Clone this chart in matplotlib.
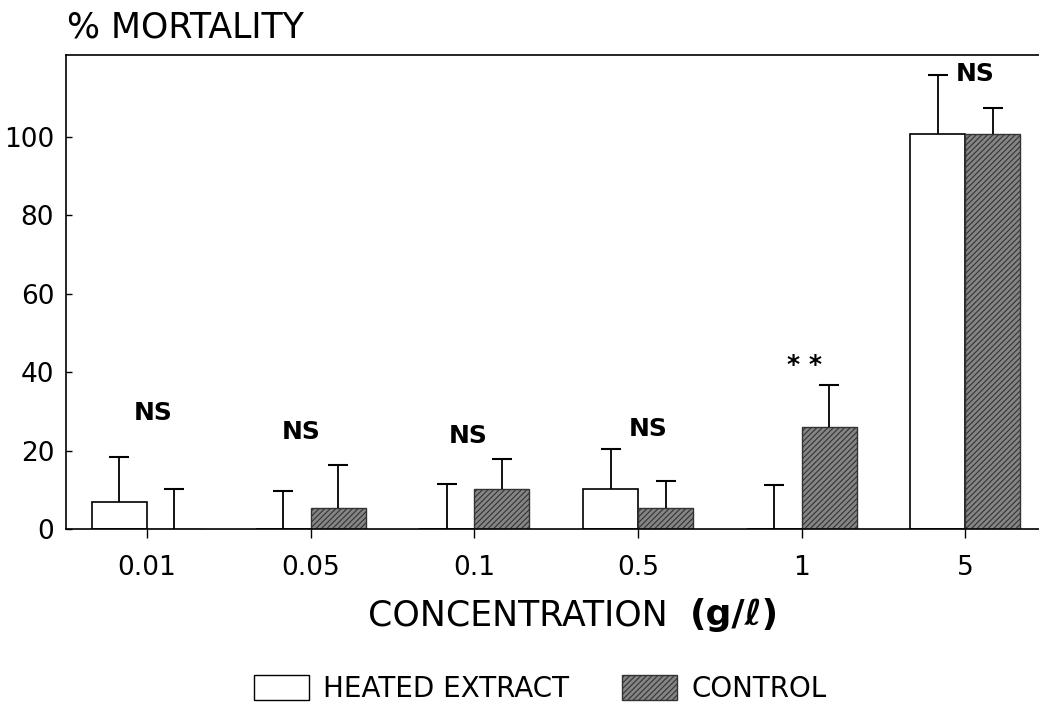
import numpy as np
import matplotlib
matplotlib.use("Agg")
import matplotlib.pyplot as plt
from matplotlib.patches import Patch

# =====================================================
# DATA
# =====================================================

concentrations = ["0.01", "0.05", "0.1", "0.5", "1", "5"]

heated = [6.9, 0, 0, 10.3, 0, 100.6]
heated_sd = [11.4, 9.6, 11.4, 10.0, 11.2, 15.2]

control = [0, 5.3, 10.2, 5.4, 25.9, 100.6]
control_sd = [10.2, 10.9, 7.6, 6.8, 10.9, 6.6]

# significance marks: (label, x offset from group, height)
sig_labels = ["NS", "NS", "NS", "NS", "* *", "NS"]
sig_offsets = [0.04, -0.06, -0.04, 0.06, 0.02, 0.06]
sig_heights = [29.6, 24.6, 23.6, 25.6, 41.9, 116.0]

# =====================================================
# FIGURE
# =====================================================

plt.rcParams["font.family"] = ["DejaVu Sans"]
plt.rcParams["hatch.linewidth"] = 0.8
plt.rcParams["hatch.color"] = "#222222"

fig = plt.figure(figsize=(10.39, 7.08), dpi=100)
ax = fig.add_axes([0.0635, 0.2528, 0.9365, 0.6695])

x = np.arange(len(concentrations))
w = 0.336

ax.bar(x - w / 2, heated, width=w, color="white",
       edgecolor="black", linewidth=1.2, zorder=2)
ax.bar(x + w / 2, control, width=w, color="#858585",
       edgecolor="#333333", linewidth=1.0, hatch="//////", zorder=2)

# upper error bars only (stem + top cap)
def upper_errors(xs, means, sds):
    tops = np.array(means) + np.array(sds)
    ax.vlines(xs, means, tops, color="black", linewidth=1.3, zorder=3)
    ax.plot(xs, tops, linestyle="none", marker="_", markersize=14,
            markeredgewidth=1.5, color="black", zorder=3)

upper_errors(x - w / 2, heated, heated_sd)
upper_errors(x + w / 2, control, control_sd)

for i in range(len(x)):
    ax.text(x[i] + sig_offsets[i], sig_heights[i], sig_labels[i],
            ha="center", va="center", fontsize=18, fontweight="bold")

# =====================================================
# AXES
# =====================================================

ax.set_xlim(-0.495, 5.45)
ax.set_ylim(0, 120.8)

ax.set_xticks(x)
ax.set_xticklabels(concentrations)
ax.set_yticks([0, 20, 40, 60, 80, 100])

ax.tick_params(axis="x", direction="out", length=6.5, width=1.0,
               pad=12, labelsize=19)
ax.tick_params(axis="y", direction="in", length=4.5, width=1.0,
               pad=8.5, labelsize=19)

ax.spines["right"].set_visible(False)
for s in ["left", "top", "bottom"]:
    ax.spines[s].set_linewidth(1.2)

fig.text(67 / 1039, 1 - 37 / 708, "% MORTALITY",
         ha="left", va="baseline", fontsize=25)

fig.text(668 / 1039, 1 - 625 / 708, "CONCENTRATION",
         ha="right", va="baseline", fontsize=25)
fig.text(690 / 1039, 1 - 625 / 708, "(g/\u2113)",
         ha="left", va="baseline", fontsize=26, fontweight="bold")

# =====================================================
# LEGEND
# =====================================================

handles = [
    Patch(facecolor="white", edgecolor="black", linewidth=1.0,
          label="HEATED EXTRACT"),
    Patch(facecolor="#858585", edgecolor="#333333", linewidth=1.0,
          hatch="//////", label="CONTROL"),
]

fig.legend(handles=handles, loc="center", bbox_to_anchor=(540 / 1039, 1 - 689 / 708),
           ncol=2, frameon=False, fontsize=20, handlelength=2.0,
           handleheight=1.0, handletextpad=0.5, columnspacing=1.9)

fig.savefig("out.png", dpi=100)
